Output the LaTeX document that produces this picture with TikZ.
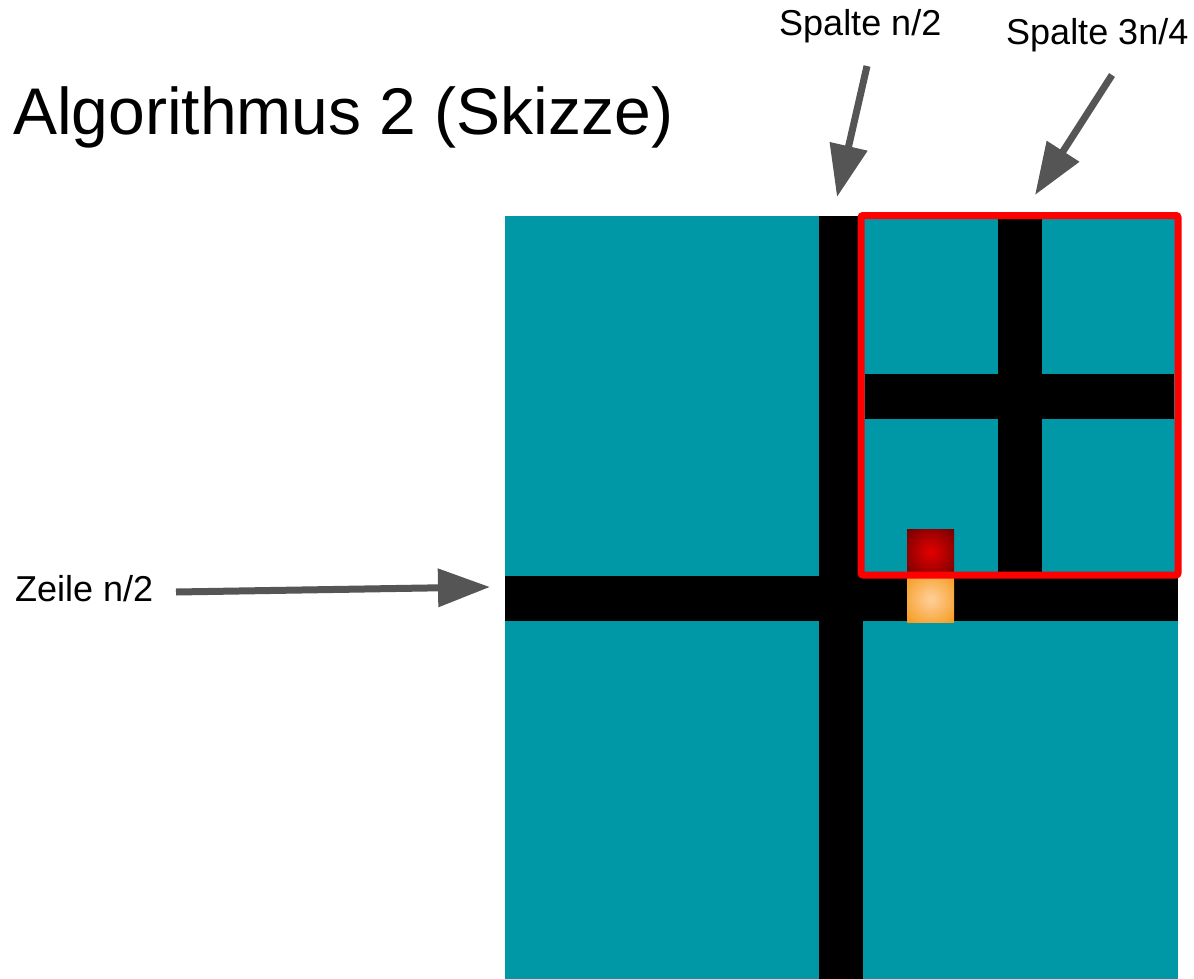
\documentclass[tikz,border=0pt]{standalone}
\usepackage{fontspec}
\setmainfont{Liberation Sans}
\usetikzlibrary{arrows.meta}
\definecolor{tealfill}{RGB}{0,151,167}
\definecolor{arrowgray}{RGB}{85,85,85}
\definecolor{framered}{RGB}{255,0,0}
\definecolor{hotred}{RGB}{225,0,0}
\definecolor{darkred}{RGB}{115,0,0}
\definecolor{paleorange}{RGB}{255,205,150}
\definecolor{deeporange}{RGB}{245,155,30}
% soft glow that reaches the outer colour only near the corners
\pgfdeclareradialshading{redglow}{\pgfpoint{0bp}{0bp}}{%
  color(0bp)=(hotred); color(5bp)=(hotred!90!darkred); color(35bp)=(darkred); color(50bp)=(darkred)}
\pgfdeclareradialshading{orangeglow}{\pgfpoint{0bp}{0bp}}{%
  color(0bp)=(paleorange); color(5bp)=(paleorange!90!deeporange); color(35bp)=(deeporange); color(50bp)=(deeporange)}
\tikzset{
  label text/.style={font=\fontsize{36}{40}\selectfont, anchor=base west, inner sep=0pt},
  title text/.style={font=\fontsize{66}{72}\selectfont, anchor=base west, inner sep=0pt},
  pointer/.style={draw=arrowgray, line width=7pt,
    -{Triangle[length=52pt, width=37pt]}},
  bar/.style={fill=black},
  cell/.style={fill=tealfill},
  marker/.style={line width=7pt, draw=framered, rounded corners=2pt},
}
\begin{document}
\begin{tikzpicture}[x=1pt, y=-1pt]
  \useasboundingbox (0,0) rectangle (1194,979);

  % matrix with the middle row and column
  \fill[cell] (505,216) rectangle (1178,979);
  \fill[bar] (819,216) rectangle (863,979);
  \fill[bar] (505,576) rectangle (1178,621);

  % quarter split of the upper right block
  \fill[bar] (998,219) rectangle (1042,575);
  \fill[bar] (865,374) rectangle (1174,419);

  % the two neighbouring cells
  \shade[shading=redglow] (907,529) rectangle (954,575);
  \shade[shading=orangeglow] (907,576) rectangle (954,622);

  % frame around the upper right block
  \draw[marker] (861,215.5) rectangle (1178,575);
  \coordinate (blockTop) at (837,197);
  \coordinate (frameTop) at (1035,195);
  \coordinate (rowLeft) at (490,587);

  % labels
  \node[title text] (title) at (13,135) {Algorithmus 2 (Skizze)};
  \node[label text] (colhalf) at (779,36) {Spalte n/2};
  \node[label text] (colquarter) at (1006,45) {Spalte 3n/4};
  \node[label text] (rowhalf) at (15,601) {Zeile n/2};

  % pointers
  \coordinate (colhalfStart) at (867,66);
  \coordinate (colquarterStart) at (1112,75);
  \coordinate (rowhalfStart) at (176,592);
  \draw[pointer] (colhalfStart) -- (blockTop);
  \draw[pointer] (colquarterStart) -- (frameTop);
  \draw[pointer] (rowhalfStart) -- (rowLeft);
\end{tikzpicture}
\end{document}
